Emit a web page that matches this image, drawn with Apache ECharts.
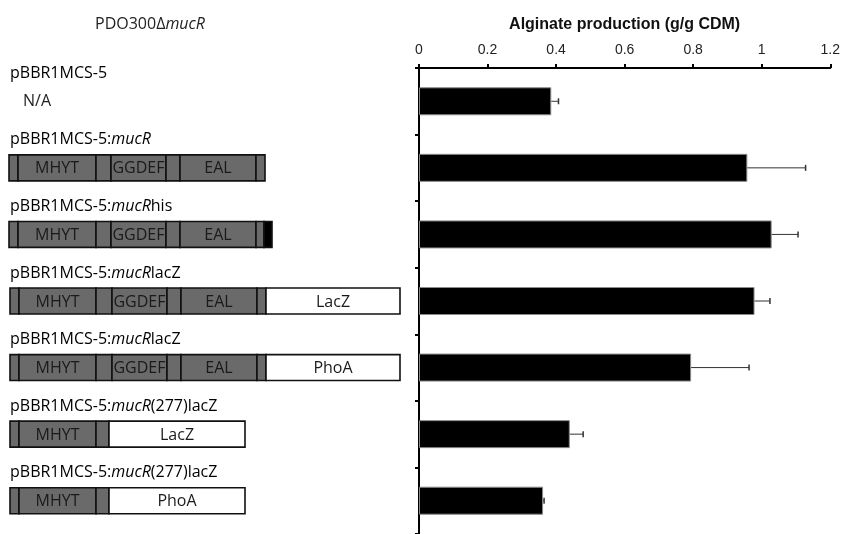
<!DOCTYPE html>
<html><head><meta charset="utf-8">
<script src="https://cdn.jsdelivr.net/npm/echarts@6/dist/echarts.min.js"></script>
<style>html,body{margin:0;padding:0;background:#fff}#c{width:843px;height:534px}</style>
</head><body><div id="c"></div>
<script>
// ---- data ----
const categories = ['pBBR1MCS-5', 'mucR', 'mucRhis', 'mucRlacZ', 'mucRphoA', 'mucR277lacZ', 'mucR277phoA'];
const alginate = [0.386, 0.958, 1.029, 0.979, 0.794, 0.440, 0.362];
const alginateErr = [0.021, 0.170, 0.077, 0.045, 0.169, 0.039, 0.003];
const xMin = 0, xMax = 1.2, xStep = 0.2;
const axisTitle = 'Alginate production (g/g CDM)';
const strainPrefix = 'PDO300Δ', strainItalic = 'mucR';
const constructPrefix = ['pBBR1MCS-5', 'pBBR1MCS-5:', 'pBBR1MCS-5:', 'pBBR1MCS-5:', 'pBBR1MCS-5:', 'pBBR1MCS-5:', 'pBBR1MCS-5:'];
const constructItalic = ['', 'mucR', 'mucR', 'mucR', 'mucR', 'mucR', 'mucR'];
const constructSuffix = ['', '', 'his', 'lacZ', 'lacZ', '(277)lacZ', '(277)lacZ'];
const emptyNote = 'N/A';
// domain map segments: [row, start, end, kind(g=grey, w=white, k=black), label]
const segments = [
  [1, 9, 18, 'g', ''], [1, 18, 96, 'g', 'MHYT'], [1, 96, 111, 'g', ''], [1, 111, 166, 'g', 'GGDEF'], [1, 166, 180, 'g', ''], [1, 180, 256, 'g', 'EAL'], [1, 256, 265, 'g', ''],
  [2, 9, 18, 'g', ''], [2, 18, 96, 'g', 'MHYT'], [2, 96, 111, 'g', ''], [2, 111, 166, 'g', 'GGDEF'], [2, 166, 180, 'g', ''], [2, 180, 256, 'g', 'EAL'], [2, 256, 264, 'g', ''], [2, 264, 272, 'k', ''],
  [3, 10, 19, 'g', ''], [3, 19, 96, 'g', 'MHYT'], [3, 96, 112, 'g', ''], [3, 112, 167, 'g', 'GGDEF'], [3, 167, 181, 'g', ''], [3, 181, 257, 'g', 'EAL'], [3, 257, 266, 'g', ''], [3, 266, 400, 'w', 'LacZ'],
  [4, 10, 19, 'g', ''], [4, 19, 96, 'g', 'MHYT'], [4, 96, 112, 'g', ''], [4, 112, 167, 'g', 'GGDEF'], [4, 167, 181, 'g', ''], [4, 181, 257, 'g', 'EAL'], [4, 257, 266, 'g', ''], [4, 266, 400, 'w', 'PhoA'],
  [5, 10, 19, 'g', ''], [5, 19, 96, 'g', 'MHYT'], [5, 96, 109, 'g', ''], [5, 109, 245, 'w', 'LacZ'],
  [6, 10, 19, 'g', ''], [6, 19, 96, 'g', 'MHYT'], [6, 96, 109, 'g', ''], [6, 109, 245, 'w', 'PhoA']
];

// ---- chart ----
const LF = '"Open Sans", "Noto Sans", sans-serif';
const AF = '"Liberation Sans", Arial, sans-serif';
const kindFill = { g: '#6a6a6a', w: '#ffffff', k: '#000000' };
const chart = echarts.init(document.getElementById('c'), null, { renderer: 'canvas' });

const option = {
  backgroundColor: '#fff',
  animation: false,
  title: {
    text: strainPrefix + '{i|' + strainItalic + '}',
    left: 90, top: 11,
    textStyle: { fontFamily: LF, fontSize: 16, fontWeight: 'normal', color: '#222',
      rich: { i: { fontFamily: LF, fontSize: 16, fontStyle: 'italic', color: '#222' } } }
  },
  grid: [
    { left: 419, right: 11, top: 68, height: 469, containLabel: false },
    { left: 0, width: 410, top: 68, height: 469, containLabel: false }
  ],
  xAxis: [
    {
      gridIndex: 0, type: 'value', position: 'top', min: xMin, max: xMax, interval: xStep,
      name: axisTitle, nameLocation: 'middle', nameGap: 35,
      nameTextStyle: { fontFamily: AF, fontSize: 16, fontWeight: 'bold', color: '#111' },
      axisLine: { show: true, lineStyle: { color: '#000', width: 2 } },
      axisTick: { show: true, length: 4, lineStyle: { color: '#000', width: 2 } },
      axisLabel: { margin: 11, fontFamily: AF, fontSize: 14, color: '#222' },
      splitLine: { show: false }
    },
    { gridIndex: 1, type: 'value', min: 0, max: 410, show: false }
  ],
  yAxis: [
    {
      gridIndex: 0, type: 'category', data: categories, inverse: true,
      axisLine: { show: true, lineStyle: { color: '#000', width: 2 } },
      axisTick: { show: true, length: 4, lineStyle: { color: '#000', width: 2 } },
      axisLabel: { show: false }, splitLine: { show: false }
    },
    { gridIndex: 1, type: 'category', data: categories, inverse: true, show: false }
  ],
  series: [
    {
      type: 'bar', xAxisIndex: 0, yAxisIndex: 0, data: alginate, barWidth: 28,
      itemStyle: { color: '#000', borderColor: '#8a8a8a', borderWidth: 1 }, z: 2
    },
    {
      type: 'custom', xAxisIndex: 0, yAxisIndex: 0, z: 3,
      data: alginate.map((v, i) => [i, v, v + alginateErr[i]]),
      encode: { x: [1, 2], y: 0 },
      renderItem: function (params, api) {
        const row = api.value(0);
        const a = api.coord([api.value(1), row]);
        const b = api.coord([api.value(2), row]);
        const cap = 3;
        return {
          type: 'group', children: [
            { type: 'line', shape: { x1: a[0], y1: a[1], x2: b[0], y2: b[1] }, style: { stroke: '#333', lineWidth: 1 } },
            { type: 'line', shape: { x1: b[0], y1: b[1] - cap, x2: b[0], y2: b[1] + cap }, style: { stroke: '#333', lineWidth: 1.5 } }
          ]
        };
      }
    },
    {
      type: 'custom', xAxisIndex: 1, yAxisIndex: 1, z: 3,
      data: segments.map(s => [s[0], s[1], s[2]]),
      encode: { x: [1, 2], y: 0 },
      renderItem: function (params, api) {
        const seg = segments[params.dataIndex];
        const row = api.value(0);
        const a = api.coord([api.value(1), row]);
        const b = api.coord([api.value(2), row]);
        const h = api.size([0, 1])[1] * 0.39;
        const children = [
          { type: 'rect', shape: { x: a[0], y: a[1] - h / 2, width: b[0] - a[0], height: h },
            style: { fill: kindFill[seg[3]], stroke: '#111', lineWidth: 1.6 } }
        ];
        if (seg[4]) {
          children.push({ type: 'text', style: { text: seg[4], x: (a[0] + b[0]) / 2, y: a[1] + 1,
            align: 'center', verticalAlign: 'middle', fontFamily: LF, fontSize: 16, fill: '#1a1a1a' } });
        }
        return { type: 'group', children: children };
      }
    },
    {
      type: 'custom', xAxisIndex: 1, yAxisIndex: 1, z: 3,
      data: categories.map((c, i) => [i, 10]),
      encode: { x: 1, y: 0 },
      renderItem: function (params, api) {
        const i = params.dataIndex;
        const p = api.coord([api.value(1), api.value(0)]);
        let txt = '{n|' + constructPrefix[i] + '}';
        if (constructItalic[i]) txt += '{i|' + constructItalic[i] + '}';
        if (constructSuffix[i]) txt += '{n|' + constructSuffix[i] + '}';
        const children = [{
          type: 'text', style: {
            text: txt, x: p[0], y: p[1] - 28, align: 'left', verticalAlign: 'middle',
            rich: {
              n: { fontFamily: LF, fontSize: 16, color: '#222' },
              i: { fontFamily: LF, fontSize: 16, fontStyle: 'italic', color: '#222' }
            }
          }
        }];
        if (i === 0) {
          children.push({ type: 'text', style: { text: emptyNote, x: p[0] + 13, y: p[1], align: 'left',
            verticalAlign: 'middle', fontFamily: LF, fontSize: 16, fill: '#222' } });
        }
        return { type: 'group', children: children };
      }
    }
  ]
};
chart.setOption(option);
</script>
</body></html>
